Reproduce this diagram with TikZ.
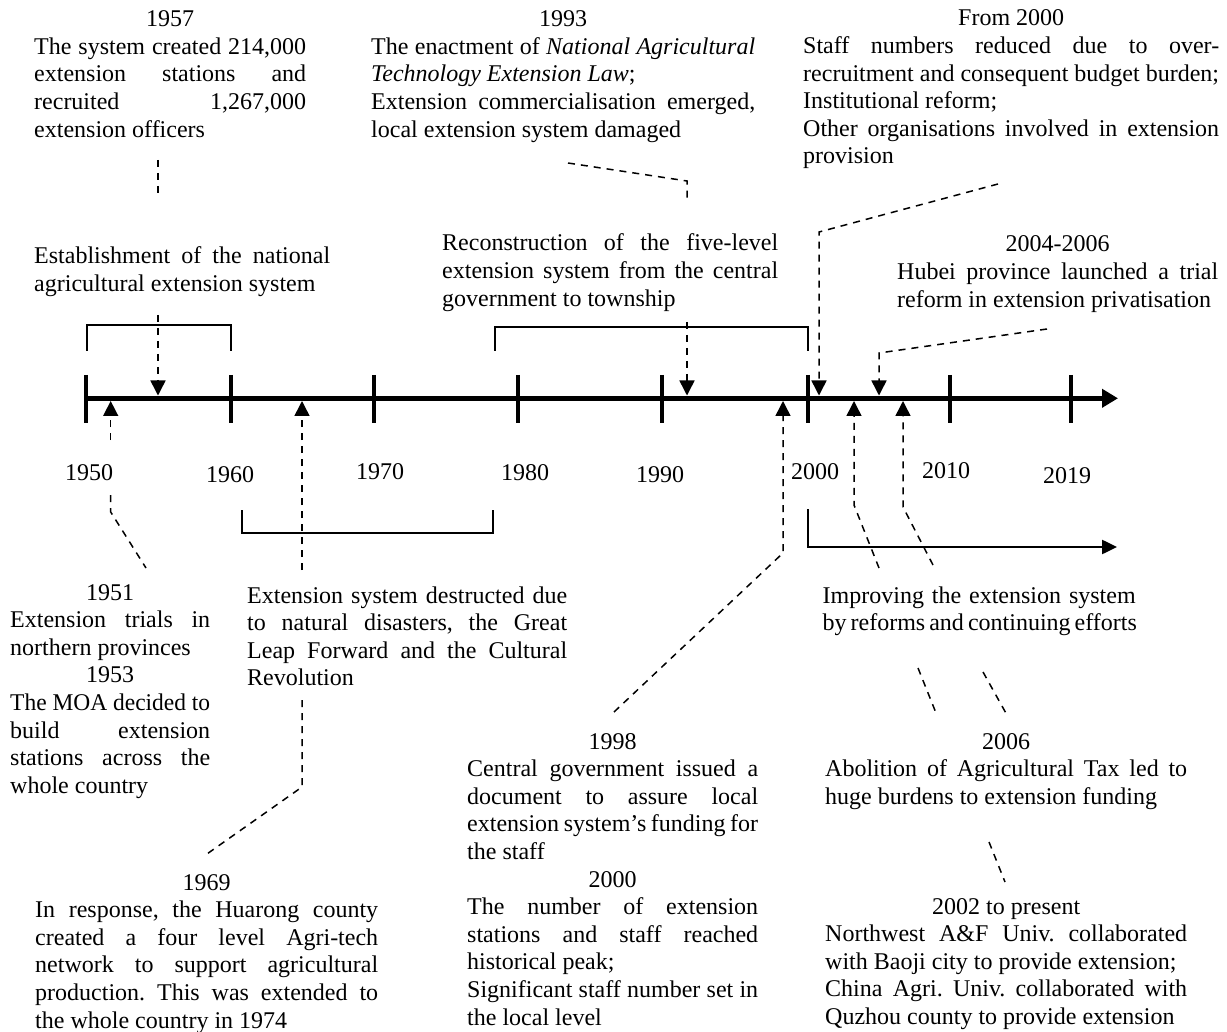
\documentclass[tikz,border=0pt]{standalone}
\usepackage{fontspec}
\usepackage{graphicx}
\setmainfont{Liberation Serif}
\usetikzlibrary{arrows.meta}
\newcommand\J[1]{\makebox[\hsize][s]{#1}}
\newcommand\Ce[1]{\makebox[\hsize][c]{#1}}
\newcommand\Ln[1]{\makebox[\hsize][l]{#1}}
\newcommand\Fit[1]{\resizebox{\hsize}{\height}{#1}}
\setlength\parindent{0pt}
\frenchspacing
\tikzset{
  txt/.style={anchor=base west, inner sep=0pt, align=flush left, font=\fontsize{24}{27.6}\selectfont\frenchspacing},
  lab/.style={anchor=base, inner sep=0pt, font=\fontsize{24}{27.6}\selectfont},
  dsh/.style={line width=1.5pt, dash pattern=on 7pt off 6pt},
  tipA/.style={-{Triangle[length=15pt,width=15pt]}},
  brk/.style={line width=2.5pt, line join=miter},
  tick/.style={line width=4pt},
}
\begin{document}
\begin{tikzpicture}[x=1pt,y=-1pt]
\useasboundingbox (0,0) rectangle (1227,1032);

% ---------- axis ----------
\coordinate (ax0) at (86,398.3);
\coordinate (ax1) at (1118,398.3);
\draw[line width=5pt, -{Triangle[length=16pt,width=18pt]}] (ax0) -- (ax1);
\foreach \x in {86,231,374,518,662,808,950,1071}
  \draw[tick] (\x,375) -- (\x,422.7);

% ---------- year labels ----------
\node[lab] (y1950) at (89,480) {1950};
\node[lab] (y1960) at (230,482) {1960};
\node[lab] (y1970) at (380,479) {1970};
\node[lab] (y1980) at (525,480) {1980};
\node[lab] (y1990) at (660,482) {1990};
\node[lab] (y2000) at (815,479) {2000};
\node[lab] (y2010) at (946,478) {2010};
\node[lab] (y2019) at (1067,483) {2019};

% ---------- brackets ----------
\draw[brk] (87,351) -- (87,325) -- (231,325) -- (231,351);
\draw[brk] (495,351) -- (495,327) -- (808,327) -- (808,351);
\draw[brk] (242,510) -- (242,533) -- (493,533) -- (493,510);
\draw[brk, -{Triangle[length=15pt,width=14pt]}] (808,509) -- (808,547) -- (1117,547);

% ---------- top text blocks ----------
\node[txt, text width=272pt] (t1957) at (34,26.7) {%
\Ce{1957}\\
\J{The system created 214,000}\\
\J{extension stations and}\\
\J{recruited 1,267,000}\\
\Ln{extension officers}};

\node[txt, text width=384pt] (t1993) at (371,26.7) {%
\Ce{1993}\\
\J{The enactment of \textit{National Agricultural}}\\
\Ln{\textit{Technology Extension Law};}\\
\J{Extension commercialisation emerged,}\\
\Ln{local extension system damaged}};

\node[txt, text width=416pt] (t2000) at (803,26) {%
\Ce{From 2000}\\
\J{Staff numbers reduced due to over-}\\
\Ln{recruitment and consequent budget burden;}\\
\Ln{Institutional reform;}\\
\J{Other organisations involved in extension}\\
\Ln{provision}};

\node[txt, text width=296pt] (testab) at (34,264) {%
\J{Establishment of the national}\\
\Ln{agricultural extension system}};

\node[txt, text width=336pt] (trecon) at (442,251) {%
\J{Reconstruction of the five-level}\\
\J{extension system from the central}\\
\Ln{government to township}};

\node[txt, text width=321pt] (t2004) at (897,252) {%
\Ce{2004-2006}\\
\J{Hubei province launched a trial}\\
\Ln{reform in extension privatisation}};

% ---------- bottom text blocks ----------
\node[txt, text width=200pt] (t1951) at (10,600) {%
\Ce{1951}\\
\J{Extension trials in}\\
\Ln{northern provinces}\\
\Ce{1953}\\
\Fit{The MOA decided to}\\
\J{build extension}\\
\J{stations across the}\\
\Ln{whole country}};

\node[txt, text width=320pt] (tdestr) at (247,603) {%
\J{Extension system destructed due}\\
\J{to natural disasters, the Great}\\
\J{Leap Forward and the Cultural}\\
\Ln{Revolution}};

\node[txt, text width=343pt] (t1969) at (35,890) {%
\Ce{1969}\\
\J{In response, the Huarong county}\\
\J{created a four level Agri-tech}\\
\J{network to support agricultural}\\
\J{production. This was extended to}\\
\Ln{the whole country in 1974}};

\node[txt, text width=291pt] (t1998) at (467,749) {%
\Ce{1998}\\
\J{Central government issued a}\\
\J{document to assure local}\\
\J{extension system’s funding for}\\
\Ln{the staff}\\
\Ce{2000}\\
\J{The number of extension}\\
\J{stations and staff reached}\\
\Ln{historical peak;}\\
\J{Significant staff number set in}\\
\Ln{the local level}};

\node[txt, text width=313pt] (timpr) at (822.5,603) {%
\J{Improving the extension system}\\
\J{by reforms and continuing efforts}};

\node[txt, text width=362pt] (t2006) at (825,749) {%
\Ce{2006}\\
\J{Abolition of Agricultural Tax led to}\\
\Ln{huge burdens to extension funding}};

\node[txt, text width=362pt] (t2002) at (825,914) {%
\Ce{2002 to present}\\
\J{Northwest A\&F Univ. collaborated}\\
\Ln{with Baoji city to provide extension;}\\
\J{China Agri. Univ. collaborated with}\\
\Ln{Quzhou county to provide extension}};

% ---------- connector points ----------
\coordinate (a1s) at (158,160);  \coordinate (a1e) at (158,198);
\coordinate (a1t) at (158,315);  \coordinate (a1h) at (158,395.5);
\coordinate (a2s) at (568,163);  \coordinate (a2k) at (687,181); \coordinate (a2e) at (687,203);
\coordinate (a2t) at (687,322);  \coordinate (a2h) at (687,395.5);
\coordinate (a3s) at (998,184);  \coordinate (a3k) at (819,232); \coordinate (a3h) at (819,395.5);
\coordinate (a4s) at (1047,329); \coordinate (a4k) at (879,353); \coordinate (a4h) at (879,395.5);
\coordinate (b1s) at (110.7,440); \coordinate (b1h) at (110.7,401);
\coordinate (b1a) at (110.7,495); \coordinate (b1k) at (110.7,512); \coordinate (b1e) at (146,568);
\coordinate (b2s) at (302,570);  \coordinate (b2h) at (302,401);
\coordinate (b2a) at (302,700);  \coordinate (b2k) at (302,787); \coordinate (b2e) at (205.5,855);
\coordinate (b3s) at (614,712);  \coordinate (b3k) at (783,553); \coordinate (b3h) at (783,401);
\coordinate (b4s) at (879,568);  \coordinate (b4k) at (854,505); \coordinate (b4h) at (854,401);
\coordinate (b4a) at (918,668);  \coordinate (b4b) at (936,713);
\coordinate (b4c) at (989,842);  \coordinate (b4d) at (1005,882);
\coordinate (b5s) at (933,565);  \coordinate (b5k) at (903,507); \coordinate (b5h) at (903,401);
\coordinate (b5a) at (983,672);  \coordinate (b5b) at (1007,715);

% ---------- dashed connectors ----------
\draw[dsh] (a1s) -- (a1e);
\draw[dsh,tipA] (a1t) -- (a1h);
\draw[dsh] (a2s) -- (a2k) -- (a2e);
\draw[dsh,tipA] (a2t) -- (a2h);
\draw[dsh,tipA] (a3s) -- (a3k) -- (a3h);
\draw[dsh,tipA] (a4s) -- (a4k) -- (a4h);
\draw[dsh,tipA] (b1s) -- (b1h);
\draw[dsh] (b1a) -- (b1k) -- (b1e);
\draw[dsh,tipA] (b2s) -- (b2h);
\draw[dsh] (b2a) -- (b2k) -- (b2e);
\draw[dsh,tipA] (b3s) -- (b3k) -- (b3h);
\draw[dsh,tipA] (b4s) -- (b4k) -- (b4h);
\draw[dsh] (b4a) -- (b4b);
\draw[dsh] (b4c) -- (b4d);
\draw[dsh,tipA] (b5s) -- (b5k) -- (b5h);
\draw[dsh] (b5a) -- (b5b);
\end{tikzpicture}
\end{document}
